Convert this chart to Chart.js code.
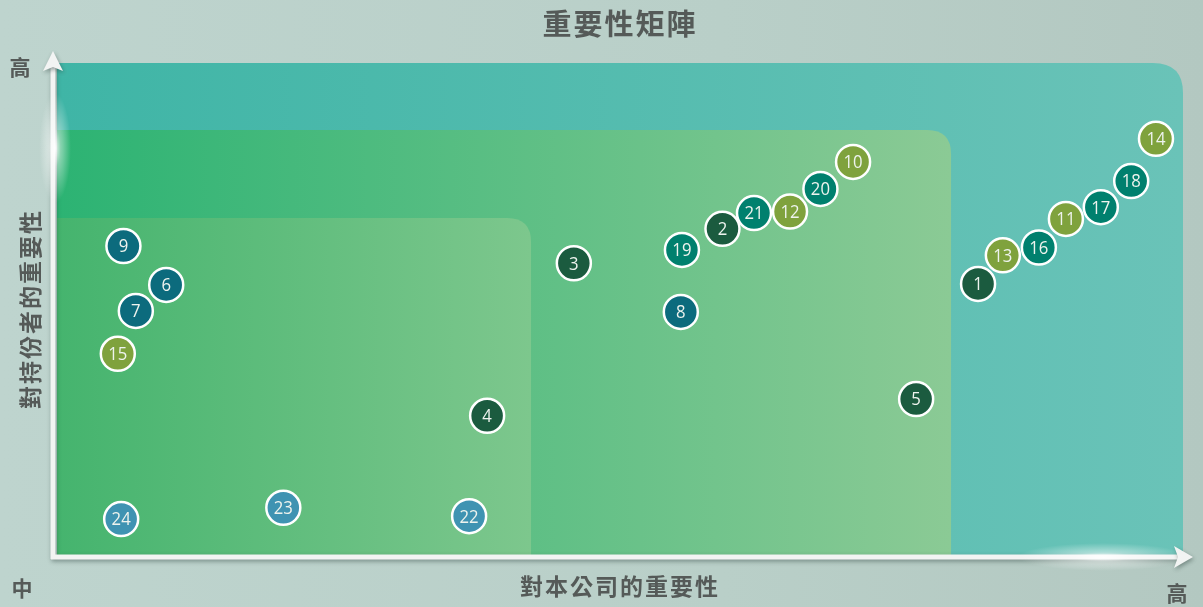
<!DOCTYPE html>
<html lang="zh-Hant">
<head>
<meta charset="utf-8">
<title>重要性矩陣</title>
<script src="https://cdn.jsdelivr.net/npm/chart.js@4.4.1/dist/chart.umd.min.js"></script>
<style>
  html, body { margin: 0; padding: 0; overflow: hidden; }
  body { width: 1203px; height: 607px; background: linear-gradient(90deg, #bed4ce 0%, #b9cfc8 60%, #b3c8c1 100%); }
  #wrap { position: relative; width: 1203px; height: 607px; }
</style>
</head>
<body>
<div id="wrap"><canvas id="matrix"></canvas></div>
<script>
// issue numbers and their position on the matrix (0-100 on both axes)
const issueNumbers = [1, 2, 3, 4, 5, 6, 7, 8, 9, 10, 11, 12, 13, 14, 15, 16, 17, 18, 19, 20, 21, 22, 23, 24];
const companyImportance = [81.8, 59.1, 45.9, 38.2, 76.3, 9.7, 7.0, 55.4, 5.9, 70.7, 89.6, 65.1,
                           84.0, 97.6, 5.4, 87.2, 92.7, 95.4, 55.5, 67.8, 61.9, 36.6, 20.1, 5.7];
const stakeholderImportance = [55.1, 66.3, 59.3, 28.3, 31.7, 54.9, 49.6, 49.4, 62.8, 79.9, 68.3, 69.8,
                               60.9, 84.6, 40.9, 62.5, 70.7, 76.0, 62.0, 74.4, 69.5, 7.9, 9.6, 7.3];
const issueGroups = ['A', 'A', 'A', 'A', 'A', 'B', 'B', 'B', 'B', 'C', 'C', 'C',
                     'C', 'C', 'C', 'D', 'D', 'D', 'D', 'D', 'D', 'E', 'E', 'E'];

// priority zones: inner, middle, outer (right edge and top edge in axis units)
const zoneRight = [42.1, 79.4, 100];
const zoneTop = [68.5, 86.4, 100];

const groupColors = { A: '#1b5b3f', B: '#0c6b7d', C: '#7fa23d', D: '#00806e', E: '#3f93b2' };
const zoneFill = [['#45b46e', '#7dc78d'], ['#2cb373', '#8bca95'], ['#3fb5a6', '#6ac3b8']];
const zoneRadius = [24, 24, 30];

// a little letter spacing for the Chinese captions
const captionSpacing = {
  id: 'captionSpacing',
  beforeDraw(chart) { chart.ctx.letterSpacing = '2px'; }
};

const matrixBackground = {
  id: 'matrixBackground',
  beforeDatasetsDraw(chart) {
    const { ctx, chartArea: a, scales: { x, y } } = chart;
    ctx.save();
    for (let i = zoneRight.length - 1; i >= 0; i--) {
      const x0 = x.getPixelForValue(0), x1 = x.getPixelForValue(zoneRight[i]);
      const y0 = y.getPixelForValue(0), y1 = y.getPixelForValue(zoneTop[i]);
      const r = zoneRadius[i];
      const g = ctx.createLinearGradient(x0, 0, x1, 0);
      g.addColorStop(0, zoneFill[i][0]);
      g.addColorStop(1, zoneFill[i][1]);
      ctx.fillStyle = g;
      ctx.beginPath();
      ctx.moveTo(x0, y0);
      ctx.lineTo(x0, y1);
      ctx.lineTo(x1 - r, y1);
      ctx.quadraticCurveTo(x1, y1, x1, y1 + r);
      ctx.lineTo(x1, y0);
      ctx.closePath();
      ctx.fill();
    }

    // soft glows on the axes
    const glow = (cx, cy, rx, ry) => {
      ctx.save();
      ctx.translate(cx, cy);
      ctx.scale(rx / 50, ry / 50);
      const rg = ctx.createRadialGradient(0, 0, 0, 0, 0, 50);
      rg.addColorStop(0, 'rgba(255,255,255,0.95)');
      rg.addColorStop(0.35, 'rgba(255,255,255,0.45)');
      rg.addColorStop(1, 'rgba(255,255,255,0)');
      ctx.fillStyle = rg;
      ctx.beginPath();
      ctx.arc(0, 0, 50, 0, Math.PI * 2);
      ctx.fill();
      ctx.restore();
    };

    // axes with arrows
    const ax = a.left - 4, ay = a.bottom + 2;
    const topTip = a.top - 12, rightTip = a.right + 10;
    ctx.shadowColor = 'rgba(40,60,55,0.45)';
    ctx.shadowBlur = 4;
    ctx.shadowOffsetX = 1;
    ctx.shadowOffsetY = 2;
    ctx.strokeStyle = '#f2f4f3';
    ctx.fillStyle = '#f2f4f3';
    ctx.lineWidth = 5;
    ctx.beginPath();
    ctx.moveTo(ax, ay + 2);
    ctx.lineTo(ax, topTip + 14);
    ctx.moveTo(ax - 2, ay);
    ctx.lineTo(rightTip - 14, ay);
    ctx.stroke();
    ctx.beginPath();
    ctx.moveTo(ax, topTip);
    ctx.lineTo(ax - 10, topTip + 20);
    ctx.lineTo(ax, topTip + 16);
    ctx.lineTo(ax + 10, topTip + 20);
    ctx.closePath();
    ctx.fill();
    ctx.beginPath();
    ctx.moveTo(rightTip, ay);
    ctx.lineTo(rightTip - 19, ay - 11);
    ctx.lineTo(rightTip - 15, ay);
    ctx.lineTo(rightTip - 19, ay + 11);
    ctx.closePath();
    ctx.fill();
    ctx.shadowColor = 'transparent';
    glow(ax + 2, a.top + 85, 16, 55);
    glow(a.right - 80, ay, 85, 14);

    // end labels of the axes
    ctx.letterSpacing = '0px';
    ctx.fillStyle = '#555a58';
    ctx.font = 'bold 21px "Noto Sans CJK TC"';
    ctx.textAlign = 'center';
    ctx.textBaseline = 'middle';
    ctx.fillText('高', a.left - 37, a.top + 4);
    ctx.fillText('中', a.left - 35, a.bottom + 33);
    ctx.fillText('高', a.right - 6, a.bottom + 38);
    ctx.restore();
  }
};

const numberLabels = {
  id: 'numberLabels',
  afterDatasetsDraw(chart) {
    const { ctx } = chart;
    ctx.save();
    ctx.letterSpacing = '0px';
    ctx.fillStyle = '#eef3ee';
    ctx.font = '19px "Open Sans"';
    ctx.textAlign = 'center';
    ctx.textBaseline = 'middle';
    chart.getDatasetMeta(0).data.forEach((pt, i) => {
      ctx.save();
      ctx.translate(pt.x, pt.y + 1);
      ctx.scale(0.88, 1);
      ctx.fillText(String(issueNumbers[i]), 0, 0);
      ctx.restore();
    });
    ctx.restore();
  }
};

const points = issueNumbers.map((n, i) => ({ x: companyImportance[i], y: stakeholderImportance[i] }));

new Chart(document.getElementById('matrix'), {
  type: 'scatter',
  data: {
    datasets: [{
      label: '議題',
      data: points,
      backgroundColor: issueGroups.map(g => groupColors[g]),
      borderColor: '#ffffff',
      borderWidth: 2.5,
      pointRadius: 17,
      pointHoverRadius: 17
    }]
  },
  options: {
    responsive: true,
    maintainAspectRatio: false,
    animation: false,
    layout: { padding: { left: 0, right: 20, top: 0, bottom: 0 } },
    scales: {
      x: {
        min: 0, max: 100,
        grid: { display: false, drawTicks: false },
        border: { display: false },
        ticks: { display: false },
        title: {
          display: true,
          text: '對本公司的重要性',
          color: '#555a58',
          font: { family: '"Noto Sans CJK TC"', size: 23, weight: 'bold' },
          padding: { top: 17.2, bottom: 7.2 }
        }
      },
      y: {
        min: 0, max: 100,
        grid: { display: false, drawTicks: false },
        border: { display: false },
        ticks: { display: false },
        title: {
          display: true,
          text: '對持份者的重要性',
          color: '#555a58',
          font: { family: '"Noto Sans CJK TC"', size: 23, weight: 'bold' },
          padding: { top: 16.2, bottom: 13.2 }
        }
      }
    },
    plugins: {
      legend: { display: false },
      tooltip: { enabled: false },
      title: {
        display: true,
        fullSize: false,
        text: '重要性矩陣',
        color: '#555a58',
        font: { family: '"Noto Sans CJK TC"', size: 29, weight: 'bold' },
        padding: { top: 6.6, bottom: 21.6 }
      }
    }
  },
  plugins: [captionSpacing, matrixBackground, numberLabels]
});
</script>
</body>
</html>
